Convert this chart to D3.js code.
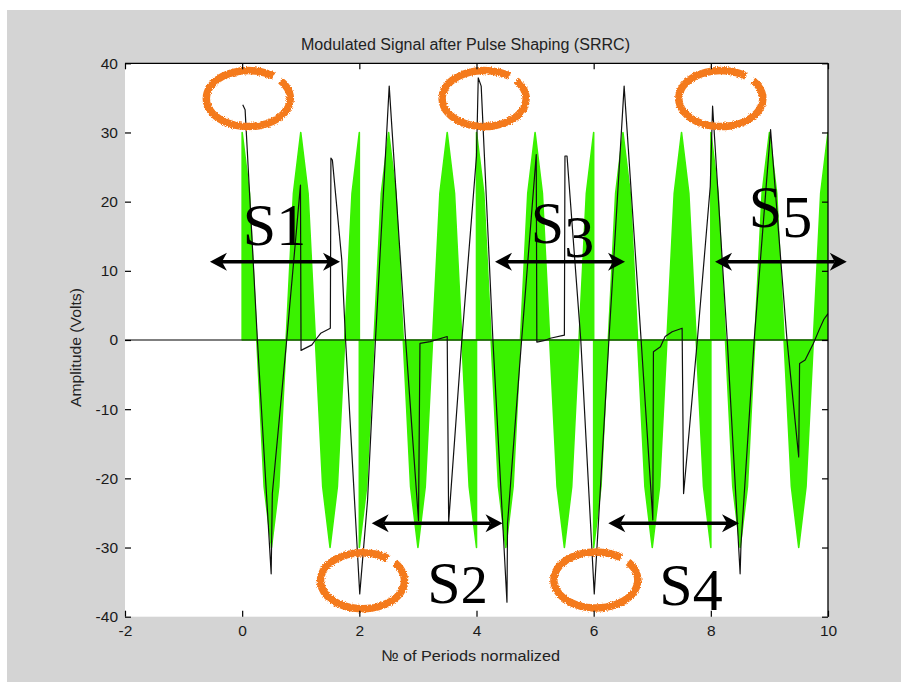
<!DOCTYPE html>
<html>
<head>
<meta charset="utf-8">
<script src="https://cdn.jsdelivr.net/npm/d3@7"></script>
<style>
  body { margin: 0; background: #fff; }
  svg { display: block; }
</style>
</head>
<body>
<svg id="chart" width="901" height="682"></svg>
<script>
// Modulated carrier, sampled every 1/8 period, one array per 2-period symbol (+ - + - +)
const sampleStep = 0.125;
const symbolStart = [0, 2, 4, 6, 8];
const carrierS1 = [30, 21.2, 0, -21.2, -30, -21.2, 0, 21.2, 30, 21.2, 0, -21.2, -30, -21.2, 0, 21.2, 30];
const carrierS2 = [-30, -21.2, 0, 21.2, 30, 21.2, 0, -21.2, -30, -21.2, 0, 21.2, 30, 21.2, 0, -21.2, -30];
const carrierS3 = [30, 21.2, 0, -21.2, -30, -21.2, 0, 21.2, 30, 21.2, 0, -21.2, -30, -21.2, 0, 21.2, 30];
const carrierS4 = [-30, -21.2, 0, 21.2, 30, 21.2, 0, -21.2, -30, -21.2, 0, 21.2, 30, 21.2, 0, -21.2, -30];
const carrierS5 = [30, 21.2, 0, -21.2, -30, -21.2, 0, 21.2, 30, 21.2, 0, -21.2, -30, -21.2, 0, 21.2, 30];

// SRRC pulse-shaped signal
const shapedTime = [0.01, 0.05, 0.26, 0.495, 0.515, 0.76, 0.995, 1.005, 1.19, 1.25, 1.34, 1.505,
                    1.515, 1.54, 1.70, 1.765, 2.007, 2.14, 2.275, 2.51, 2.79, 3.01, 3.035, 3.21,
                    3.5, 3.525, 3.75, 4.0, 4.03, 4.08, 4.28, 4.52, 4.53, 4.77, 5.02, 5.03, 5.15,
                    5.26, 5.5, 5.51, 5.545, 5.78, 6.01, 6.06, 6.26, 6.52, 6.81, 7.01, 7.02, 7.14,
                    7.22, 7.34, 7.51, 7.535, 7.77, 7.99, 8.03, 8.28, 8.50, 8.515, 8.74, 9.02,
                    9.30, 9.50, 9.515, 9.61, 9.75, 9.85, 9.93, 10];
const shapedAmp  = [34.0, 33.3, 0, -33.8, -22.2, 0, 22.4, -1.5, -0.7, 0, 0.97, 1.7,
                    26.3, 26.0, 11.6, 0, -36.7, -23.2, 0, 36.7, 0, -26.1, -0.5, -0.24,
                    0.5, -26.3, 0, 26.6, 37.9, 36.7, 0, -37.9, -26.5, 0, 26.8, -0.3, -0.1,
                    0.25, 0.7, 26.6, 26.6, 0, -36.7, -29.5, 0, 36.7, 0, -26.0, -1.7, -0.97,
                    0.5, 1.2, 1.7, -22.2, 0, 22.2, 33.8, 0, -33.8, -29.5, 0, 30.4,
                    0, -16.9, -3.4, -2.9, -0.5, 1.5, 3.0, 3.8];

const xTicks = [-2, 0, 2, 4, 6, 8, 10];
const yTicks = [-40, -30, -20, -10, 0, 10, 20, 30, 40];

// Highlighted peaks (x, amplitude)
const peakX = [0.105, 4.13, 8.17, 2.054, 6.037];
const peakY = [34.9, 34.9, 34.9, -34.8, -34.7];

// Symbol spans
const spanName  = ["S1", "S2", "S3", "S4", "S5"];
const spanFrom  = [-0.55, 2.211, 4.316, 6.25, 8.072];
const spanTo    = [1.67, 4.444, 6.535, 8.481, 10.32];
const spanLevel = [11.32, -26.5, 11.32, -26.5, 11.32];
const nameX     = [0.552, 3.676, 5.468, 7.662, 9.19];
const nameY     = [13.73, -38.06, 13.98, -38.3, 16.38];

const W = 901, H = 682;
const svg = d3.select("#chart");

const x = d3.scaleLinear().domain([-2, 10]).range([125, 828]);
const y = d3.scaleLinear().domain([-40, 40]).range([616.7, 63.3]);

const defs = svg.append("defs");
defs.append("clipPath").attr("id", "plotClip")
  .append("rect")
  .attr("x", x(-2)).attr("y", y(40))
  .attr("width", x(10) - x(-2)).attr("height", y(-40) - y(40));

// rough spray-paint edge for the hand-drawn ellipses
const spray = defs.append("filter").attr("id", "spray")
  .attr("x", "-20%").attr("y", "-20%").attr("width", "140%").attr("height", "140%");
spray.append("feTurbulence").attr("type", "fractalNoise")
  .attr("baseFrequency", "1.2").attr("numOctaves", 2).attr("seed", 7).attr("result", "noise");
spray.append("feDisplacementMap").attr("in", "SourceGraphic").attr("in2", "noise")
  .attr("scale", 3.5).attr("xChannelSelector", "R").attr("yChannelSelector", "G");

// figure background
svg.append("rect").attr("width", W).attr("height", H).attr("fill", "#fff");
svg.append("rect").attr("x", 7).attr("y", 10).attr("width", W - 7).attr("height", H - 10)
  .attr("fill", "#d4d4d4");
svg.append("rect")
  .attr("x", x(-2)).attr("y", y(40))
  .attr("width", x(10) - x(-2)).attr("height", y(-40) - y(40))
  .attr("fill", "#fff");

const plot = svg.append("g").attr("clip-path", "url(#plotClip)");

// carrier samples as a filled envelope, one path per symbol (phase flips split it)
const carrierSymbols = [carrierS1, carrierS2, carrierS3, carrierS4, carrierS5]
  .map((vals, k) => vals.map((v, i) => [symbolStart[k] + i * sampleStep, v]));

const carrierArea = d3.area()
  .x(d => x(d[0])).y0(y(0)).y1(d => y(d[1]));
plot.append("g").selectAll("path").data(carrierSymbols).join("path")
  .attr("fill", "#3af200")
  .attr("stroke", "#3af200")
  .attr("stroke-width", 1.6)
  .attr("stroke-linejoin", "round")
  .attr("d", carrierArea);

// zero line
plot.append("line")
  .attr("x1", x(-2)).attr("x2", x(10)).attr("y1", y(0)).attr("y2", y(0))
  .attr("stroke", "#000").attr("stroke-width", 1.2);

// highlight ellipses with a small break at the upper right
const rx = 42, ry = 28;
const a0 = -40 * Math.PI / 180, a1 = -53 * Math.PI / 180;
svg.append("g").attr("filter", "url(#spray)")
  .selectAll("path").data(peakX).join("path")
  .attr("fill", "none")
  .attr("stroke", "#f47a1e")
  .attr("stroke-width", 7.5)
  .attr("d", (d, i) => {
    const cx = x(d), cy = y(peakY[i]);
    const sx = cx + rx * Math.cos(a0), sy = cy + ry * Math.sin(a0);
    const ex = cx + rx * Math.cos(a1), ey = cy + ry * Math.sin(a1);
    return `M${sx},${sy}A${rx},${ry} 0 1 1 ${ex},${ey}`;
  });

// shaped signal
const shaped = shapedTime.map((t, i) => [t, shapedAmp[i]]);
plot.append("path")
  .datum(shaped)
  .attr("fill", "none")
  .attr("stroke", "#111")
  .attr("stroke-width", 1.2)
  .attr("stroke-linejoin", "round")
  .attr("d", d3.line().x(d => x(d[0])).y(d => y(d[1])));

// axes: ticks inward on all four sides
const fmt = d => String(d);
const tickFont = "'Liberation Sans', Arial, Helvetica, sans-serif";

const axisBottomG = svg.append("g").attr("transform", `translate(0,${y(-40)})`)
  .call(d3.axisBottom(x).tickValues(xTicks).tickSize(-6).tickPadding(8).tickFormat(fmt));
const axisLeftG = svg.append("g").attr("transform", `translate(${x(-2)},0)`)
  .call(d3.axisLeft(y).tickValues(yTicks).tickSize(-6).tickPadding(7).tickFormat(fmt));
const axisTopG = svg.append("g").attr("transform", `translate(0,${y(40)})`)
  .call(d3.axisTop(x).tickValues(xTicks).tickSize(-6).tickFormat(""));
const axisRightG = svg.append("g").attr("transform", `translate(${x(10)},0)`)
  .call(d3.axisRight(y).tickValues(yTicks).tickSize(-6).tickFormat(""));

[axisBottomG, axisLeftG, axisTopG, axisRightG].forEach(g => {
  g.select(".domain").remove();
  g.selectAll(".tick line").attr("stroke", "#000").attr("stroke-width", 1.2);
  g.selectAll("text")
    .attr("font-family", tickFont).attr("font-size", 15.5).attr("fill", "#1a1a1a");
});

// box edges (top and right)
svg.append("line").attr("x1", x(-2)).attr("x2", x(10)).attr("y1", y(40)).attr("y2", y(40))
  .attr("stroke", "#000").attr("stroke-width", 1.3);
svg.append("line").attr("x1", x(10)).attr("x2", x(10)).attr("y1", y(40)).attr("y2", y(-40))
  .attr("stroke", "#000").attr("stroke-width", 1.3);

// double-headed span arrows
const headLen = 17, headHalf = 9, notch = 12;
const arrows = svg.append("g");
spanName.forEach((name, i) => {
  const x0 = x(spanFrom[i]), x1 = x(spanTo[i]), yy = y(spanLevel[i]);
  arrows.append("line")
    .attr("x1", x0 + notch).attr("x2", x1 - notch).attr("y1", yy).attr("y2", yy)
    .attr("stroke", "#000").attr("stroke-width", 3.5);
  arrows.append("path").attr("fill", "#000")
    .attr("d", `M${x0},${yy}L${x0 + headLen},${yy - headHalf}L${x0 + notch},${yy}L${x0 + headLen},${yy + headHalf}Z`);
  arrows.append("path").attr("fill", "#000")
    .attr("d", `M${x1},${yy}L${x1 - headLen},${yy - headHalf}L${x1 - notch},${yy}L${x1 - headLen},${yy + headHalf}Z`);
});

// span names, digits set as old-style figures
const digitDrop = [0, 0, 14, 5, 10];
const digitSize = [1, 0.9, 1, 1, 1];
const names = svg.append("g")
  .attr("font-family", "'Liberation Serif', 'Times New Roman', 'DejaVu Serif', serif")
  .attr("font-size", 60).attr("fill", "#000");
spanName.forEach((name, i) => {
  const t = names.append("text")
    .attr("x", x(nameX[i])).attr("y", y(nameY[i]))
    .attr("text-anchor", "middle");
  t.append("tspan").text(name.charAt(0));
  t.append("tspan").attr("dy", digitDrop[i])
    .attr("font-size", 60 * digitSize[i]).text(name.slice(1));
});

// titles
const labelFont = "'Liberation Sans', Arial, Helvetica, sans-serif";
svg.append("text")
  .attr("x", 301).attr("y", 50)
  .attr("font-family", labelFont).attr("font-size", 16).attr("fill", "#222")
  .attr("textLength", 329).attr("lengthAdjust", "spacingAndGlyphs")
  .text("Modulated Signal after Pulse Shaping (SRRC)");

svg.append("text")
  .attr("x", 381).attr("y", 661)
  .attr("font-family", labelFont).attr("font-size", 15.5).attr("fill", "#222")
  .attr("textLength", 179).attr("lengthAdjust", "spacingAndGlyphs")
  .text("№ of Periods normalized");

svg.append("text")
  .attr("transform", "translate(81,407) rotate(-90)")
  .attr("font-family", labelFont).attr("font-size", 15).attr("fill", "#222")
  .attr("textLength", 119).attr("lengthAdjust", "spacingAndGlyphs")
  .text("Amplitude (Volts)");
</script>
</body>
</html>
